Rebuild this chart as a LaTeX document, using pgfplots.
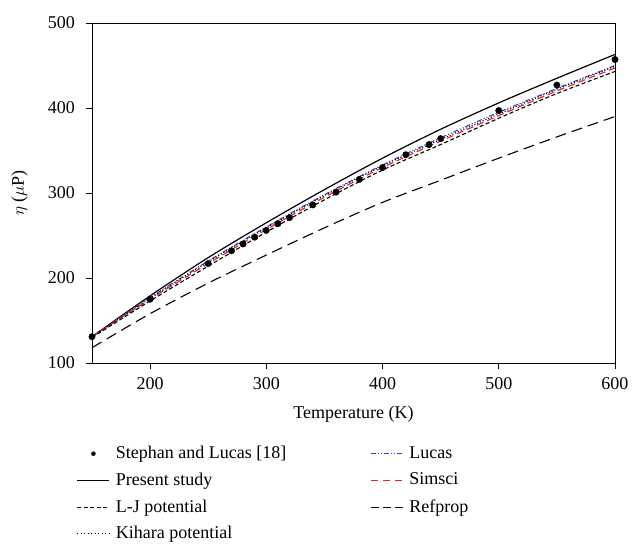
\documentclass[border=0pt]{standalone}
\usepackage{fontspec}
\setmainfont{Liberation Serif}
\usepackage{pgfplots}
\pgfplotsset{compat=1.18}
\definecolor{lucasblue}{RGB}{40,70,200}
\definecolor{simred}{RGB}{230,30,40}
\pgfplotsset{
  lineleg/.style={legend image code/.code={\draw[##1] (0pt,0pt) -- (32pt,0pt);}},
}
\begin{document}
\fontsize{18}{22}\selectfont
\begin{tikzpicture}
\path[use as bounding box] (-92pt,-181pt) rectangle (541pt,363pt);
\begin{axis}[
  at={(0,0)}, anchor=south west,
  scale only axis, width=523pt, height=340pt,
  xmin=150, xmax=600, ymin=100, ymax=500,
  xtick={200,300,400,500,600}, ytick={100,200,300,400,500},
  tick align=outside, xtick pos=bottom, ytick pos=left,
  major tick length=6pt,
  tick style={black, line width=0.8pt},
  axis line style={line width=0.8pt},
  /pgf/number format/assume math mode=true,
  ticklabel style={font=\fontsize{18}{20}\selectfont},
  yticklabel style={xshift=-5pt},
  xticklabel style={yshift=-2pt},
  xlabel={Temperature (K)}, ylabel={$\eta$ ($\mu$P)},
  label style={font=\fontsize{18}{20}\selectfont},
  xlabel style={yshift=-4pt},
  ylabel style={yshift=8pt},
  legend columns=2,
  legend cell align=left,
  legend style={draw=none, fill=none, at={(-0.035,-0.232)}, anchor=north west,
    font=\fontsize{18}{20}\selectfont, row sep=7.5pt,
    /tikz/every even column/.append style={column sep=82pt},
    /tikz/every odd column/.append style={column sep=4pt}},
]
% Present study
\addplot[black, line width=1.2pt, smooth, forget plot] coordinates {
(150,131)(200,179)(250,224)(300,265)(350,304)(400,341)(450,375)(500,406)(550,435)(600,463)};
% Lucas
\addplot[lucasblue, line width=1.1pt, smooth, forget plot,
  dash pattern=on 5pt off 2pt on 1pt off 2pt on 1pt off 2pt] coordinates {
(150,131)(200,177)(250,220)(300,260)(350,298)(400,333)(450,365)(500,395)(550,423)(600,450)};
% Kihara
\addplot[black, line width=1.1pt, smooth, forget plot, dash pattern=on 1pt off 2pt] coordinates {
(150,131)(200,176)(250,219)(300,259)(350,297)(400,332)(450,363)(500,393)(550,422)(600,449)};
% Simsci
\addplot[simred, line width=1.1pt, smooth, forget plot, dash pattern=on 7pt off 4pt] coordinates {
(150,131)(200,175)(250,217)(300,257)(350,295)(400,330)(450,361)(500,391)(550,420)(600,447)};
% L-J
\addplot[black, line width=1.1pt, smooth, forget plot, dash pattern=on 4pt off 2.5pt] coordinates {
(150,130)(200,173)(250,214)(300,254)(350,292)(400,327)(450,357)(500,388)(550,417)(600,443)};
% Refprop
\addplot[black, line width=1.1pt, smooth, forget plot, dash pattern=on 11pt off 6pt] coordinates {
(150,118)(200,158)(250,194)(300,227)(350,259)(400,289)(450,315)(500,341)(550,366)(600,390)};
% Stephan and Lucas
\addplot[only marks, mark=*, mark size=3.2pt, black, forget plot] coordinates {
(150,131)(200,175)(250,217)(270,232)(280,240)(290,248)(300,256)(310,264)(320,271)
(340,286)(360,301)(380,316)(400,330)(420,345)(440,357)(450,364)(500,397)(550,427)(600,457)};

\addlegendimage{only marks, mark=*, mark size=2pt, black, legend image code/.code={\fill[black] (16pt,0pt) circle (2pt);}}
\addlegendentry{Stephan and Lucas [18]}
\addlegendimage{lineleg, lucasblue, line width=0.8pt, dash pattern=on 5pt off 2pt on 1pt off 2pt on 1pt off 2pt}
\addlegendentry{Lucas}
\addlegendimage{lineleg, black, line width=1pt}
\addlegendentry{Present study}
\addlegendimage{lineleg, simred, line width=1pt, dash pattern=on 7pt off 5pt}
\addlegendentry{Simsci}
\addlegendimage{lineleg, black, line width=0.9pt, dash pattern=on 4pt off 2.5pt}
\addlegendentry{L-J potential}
\addlegendimage{lineleg, black, line width=1pt, dash pattern=on 8pt off 4pt}
\addlegendentry{Refprop}
\addlegendimage{lineleg, black, line width=1pt, dash pattern=on 1pt off 2.5pt}
\addlegendentry{Kihara potential}
\end{axis}
\end{tikzpicture}
\end{document}
